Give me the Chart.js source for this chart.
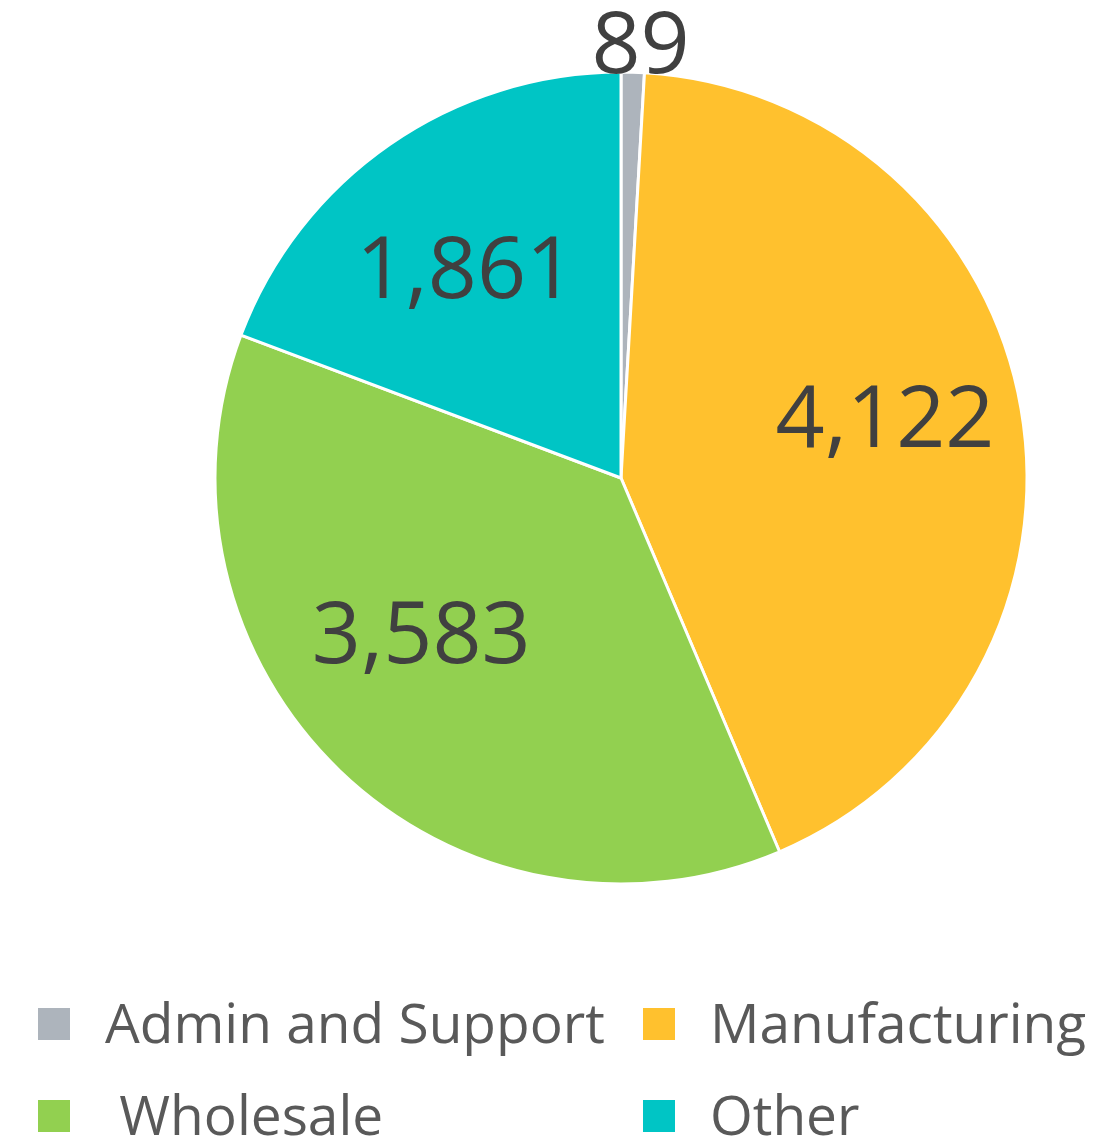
<!DOCTYPE html>
<html>
<head>
<meta charset="utf-8">
<script src="https://cdn.jsdelivr.net/npm/chart.js@4.4.1/dist/chart.umd.min.js"></script>
<style>
    body { margin: 0; background: #ffffff; font-family: "Open Sans", sans-serif; }
    #wrap { position: relative; width: 1113px; height: 1140px; overflow: hidden; }
    #pie { position: absolute; left: 0; top: 0; }
    .legend-item { position: absolute; display: flex; align-items: center; color: #595959; font-size: 55px; line-height: 1; white-space: pre; }
    .legend-item span.box { width: 32px; height: 32px; display: inline-block; }
    .legend-item span.txt { position: absolute; }
</style>
</head>
<body>
<div id="wrap">
    <canvas id="pie" width="1113" height="956"></canvas>
    <div id="legend"></div>
</div>
<script>
"use strict";

// Antal per bransch
const sectors = ["Admin and Support", "Manufacturing", "Wholesale", "Other"];
const counts = [89, 4122, 3583, 1861];
const sectorColors = ["#adb4bc", "#ffc12e", "#92d050", "#00c5c5"];

// Små justeringar av etiketternas placering (px)
const labelNudge = [[7, 0], [4, -17], [-17, -36], [-5, 6]];

// Ritar värdena i/utanför tårtbitarna
const valueLabels = {
    id: 'valueLabels',
    afterDatasetsDraw(chart) {
        const ctx = chart.ctx;
        const arcs = chart.getDatasetMeta(0).data;
        const total = counts.reduce((a, b) => a + b, 0);
        ctx.save();
        ctx.font = '86px "Open Sans"';
        ctx.fillStyle = '#404040';
        ctx.textAlign = 'center';
        ctx.textBaseline = 'alphabetic';
        arcs.forEach((arc, i) => {
            const p = arc.getProps(['x', 'y', 'startAngle', 'endAngle', 'outerRadius'], true);
            const mid = (p.startAngle + p.endAngle) / 2;
            // små bitar får etiketten utanför cirkeln
            const r = counts[i] / total < 0.05 ? p.outerRadius + 30 : p.outerRadius * 0.65;
            const x = p.x + Math.cos(mid) * r + labelNudge[i][0];
            const y = p.y + Math.sin(mid) * r + labelNudge[i][1];
            ctx.fillText(counts[i].toLocaleString('en-US'), x, y + 31);
        });
        ctx.restore();
    }
};

new Chart(document.getElementById('pie'), {
    type: 'pie',
    data: {
        labels: sectors,
        datasets: [{
            data: counts,
            backgroundColor: sectorColors,
            borderColor: '#ffffff',
            borderWidth: 3
        }]
    },
    options: {
        responsive: false,
        animation: false,
        devicePixelRatio: 1,
        radius: 406,
        layout: { padding: { left: 129, right: 0, top: 0, bottom: 0 } },
        plugins: {
            legend: { display: false },
            tooltip: { enabled: false }
        }
    },
    plugins: [valueLabels]
});

// Legenden i två kolumner under diagrammet
const legendPos = [[38, 1008], [643, 1008], [38, 1100], [643, 1100]];
const legendText = ["Admin and Support", "Manufacturing", " Wholesale", "Other"];
const legend = document.getElementById('legend');
sectors.forEach((s, i) => {
    const item = document.createElement('div');
    item.className = 'legend-item';
    item.style.left = legendPos[i][0] + 'px';
    item.style.top = legendPos[i][1] + 'px';
    item.innerHTML = '<span class="box" style="background:' + sectorColors[i] + '"></span>' +
        '<span class="txt" style="left:67px;top:-14px">' + legendText[i] + '</span>';
    legend.appendChild(item);
});
</script>
</body>
</html>
